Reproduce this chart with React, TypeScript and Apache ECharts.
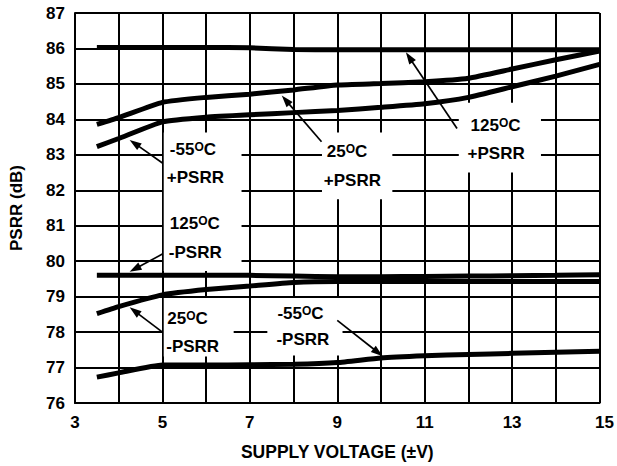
import React, { useEffect, useRef } from "react";
import * as echarts from "echarts";

// ---- data ----
const VOLTAGE = [3.5, 4, 5, 6, 7, 8, 9, 10, 11, 12, 13, 14, 15];
const PLUS_125C = [86.03, 86.03, 86.03, 86.03, 86.02, 85.97, 85.96, 85.96, 85.96, 85.96, 85.96, 85.96, 85.96];
const PLUS_25C = [83.86, 84.05, 84.48, 84.62, 84.71, 84.83, 84.97, 85.01, 85.06, 85.16, 85.42, 85.68, 85.93];
const PLUS_M55C = [83.23, 83.46, 83.93, 84.06, 84.13, 84.19, 84.25, 84.34, 84.44, 84.62, 84.92, 85.22, 85.55];
const MINUS_125C = [79.6, 79.6, 79.6, 79.6, 79.6, 79.58, 79.56, 79.56, 79.57, 79.58, 79.59, 79.6, 79.62];
const MINUS_25C = [78.52, 78.72, 79.05, 79.2, 79.3, 79.4, 79.43, 79.43, 79.43, 79.43, 79.43, 79.43, 79.43];
const MINUS_M55C = [76.73, 76.85, 77.07, 77.07, 77.08, 77.09, 77.14, 77.27, 77.33, 77.37, 77.4, 77.43, 77.46];

const X_MIN = 3;
const X_MAX = 15;
const Y_MIN = 76;
const Y_MAX = 87;
const X_LABELED = [3, 5, 7, 9, 11, 13, 15];

const X_TITLE = "SUPPLY VOLTAGE (\u00B1V)";
const Y_TITLE = "PSRR (dB)";

// annotation labels, anchor (x, y of each line) in data units
type Note = { temp: string; kind: string; x: number; y1: number; y2: number };
const NOTES: Note[] = [
  { temp: "-55", kind: "+PSRR", x: 5.17, y1: 83.156, y2: 82.356 },
  { temp: "125", kind: "-PSRR", x: 5.17, y1: 81.05, y2: 80.25 },
  { temp: "25", kind: "-PSRR", x: 5.11, y1: 78.385, y2: 77.6 },
  { temp: "-55", kind: "-PSRR", x: 7.63, y1: 78.525, y2: 77.78 },
  { temp: "25", kind: "+PSRR", x: 8.76, y1: 83.085, y2: 82.286 },
  { temp: "125", kind: "+PSRR", x: 12.05, y1: 83.83, y2: 83.04 },
];

// white label boxes: [x0, x1, yTop, yBottom] in data units
const BOXES: number[][] = [
  [5.03, 6.81, 83.63, 79.72],
  [5.03, 6.63, 78.96, 77.31],
  [7.4, 9.12, 78.96, 77.34],
  [8.65, 10.26, 83.63, 81.75],
  [11.78, 13.66, 84.47, 82.5],
];

// arrows: [fromX, fromY, toX, toY] in data units
const ARROWS: number[][] = [
  [5.0, 82.77, 4.25, 83.42],
  [5.0, 80.2, 4.25, 79.7],
  [5.0, 78.0, 4.25, 78.7],
  [8.64, 83.37, 7.73, 84.67],
  [11.74, 83.74, 10.57, 85.89],
  [9.0, 78.33, 10.04, 77.32],
];

const FONT = "Liberation Sans";

function pair(ys: number[]) {
  return VOLTAGE.map((x, i) => [x, ys[i]]);
}

export default function App() {
  const ref = useRef<HTMLDivElement>(null);

  useEffect(() => {
    const chart = echarts.init(ref.current!, null, { renderer: "svg" });
    const curve = (name: string, ys: number[]) => ({
      name,
      type: "line",
      data: pair(ys),
      showSymbol: false,
      symbol: "none",
      smooth: 0.15,
      lineStyle: { color: "#000", width: 5, cap: "butt" },
      z: 4,
    });
    chart.setOption({
      animation: false,
      backgroundColor: "#fff",
      grid: { left: 73, right: 15, top: 13, bottom: 61 },
      xAxis: {
        type: "value",
        min: X_MIN,
        max: X_MAX,
        interval: 1,
        name: X_TITLE,
        nameLocation: "middle",
        nameGap: 40,
        nameTextStyle: { fontFamily: FONT, fontWeight: "bold", fontSize: 17.5, color: "#000" },
        axisLine: { show: true, lineStyle: { color: "#000", width: 2 } },
        axisTick: { show: false },
        splitLine: { show: true, lineStyle: { color: "#000", width: 2 } },
        axisLabel: {
          margin: 11,
          fontFamily: FONT,
          fontWeight: "bold",
          fontSize: 17,
          color: "#000",
          formatter: (v: number) =>
            X_LABELED.includes(v) ? (v === X_MAX ? `{r|${v}}` : String(v)) : "",
          rich: { r: { padding: [0, 0, 0, 10], fontFamily: FONT, fontWeight: "bold", fontSize: 17, color: "#000" } },
        },
      },
      yAxis: {
        type: "value",
        min: Y_MIN,
        max: Y_MAX,
        interval: 1,
        name: Y_TITLE,
        nameLocation: "middle",
        nameGap: 50,
        nameTextStyle: { fontFamily: FONT, fontWeight: "bold", fontSize: 17, color: "#000" },
        axisLine: { show: true, lineStyle: { color: "#000", width: 2 } },
        axisTick: { show: false },
        splitLine: { show: true, lineStyle: { color: "#000", width: 2 } },
        axisLabel: { margin: 10, fontFamily: FONT, fontWeight: "bold", fontSize: 17, color: "#000" },
      },
      series: [
        curve("125°C +PSRR", PLUS_125C),
        curve("25°C +PSRR", PLUS_25C),
        curve("-55°C +PSRR", PLUS_M55C),
        curve("125°C -PSRR", MINUS_125C),
        curve("25°C -PSRR", MINUS_25C),
        curve("-55°C -PSRR", MINUS_M55C),
      ],
    });

    const px = (x: number, y: number) => chart.convertToPixel({ gridIndex: 0 }, [x, y]) as number[];
    const elements: any[] = [];
    BOXES.forEach(([x0, x1, yt, yb]) => {
      const a = px(x0, yt);
      const b = px(x1, yb);
      elements.push({
        type: "rect",
        z: 1,
        shape: { x: a[0], y: a[1], width: b[0] - a[0], height: b[1] - a[1] },
        style: { fill: "#fff" },
        silent: true,
      });
    });
    ARROWS.forEach(([fx, fy, tx, ty]) => {
      const a = px(fx, fy);
      const b = px(tx, ty);
      const dx = b[0] - a[0];
      const dy = b[1] - a[1];
      const len = Math.hypot(dx, dy);
      const ux = dx / len;
      const uy = dy / len;
      const headL = 12;
      const headW = 4;
      const bx = b[0] - ux * headL;
      const by = b[1] - uy * headL;
      elements.push({
        type: "line",
        z: 5,
        shape: { x1: a[0], y1: a[1], x2: bx + ux * 2, y2: by + uy * 2 },
        style: { stroke: "#000", lineWidth: 1.7 },
        silent: true,
      });
      elements.push({
        type: "polygon",
        z: 5,
        shape: {
          points: [
            [b[0], b[1]],
            [bx - uy * headW, by + ux * headW],
            [bx + uy * headW, by - ux * headW],
          ],
        },
        style: { fill: "#000" },
        silent: true,
      });
    });
    NOTES.forEach((n) => {
      const p1 = px(n.x, n.y1);
      const p2 = px(n.x, n.y2);
      elements.push({
        type: "text",
        z: 6,
        x: p1[0],
        y: p1[1],
        style: {
          text: `${n.temp}{o|O}C`,
          fill: "#000",
          font: `bold 17px "${FONT}"`,
          align: "left",
          verticalAlign: "middle",
          rich: {
            o: { fontSize: 12, fontWeight: "bold", fontFamily: FONT, fill: "#000", verticalAlign: "top", lineHeight: 17 },
          },
        },
        silent: true,
      });
      elements.push({
        type: "text",
        z: 6,
        x: p2[0] - (n.kind.startsWith("+") ? 3 : 1),
        y: p2[1],
        style: {
          text: n.kind,
          fill: "#000",
          font: `bold 17px "${FONT}"`,
          align: "left",
          verticalAlign: "middle",
        },
        silent: true,
      });
    });
    chart.setOption({ graphic: { elements } });

    return () => chart.dispose();
  }, []);

  return (
    <div
      ref={ref}
      style={{ position: "fixed", left: 0, top: 0, width: 617, height: 466, background: "#fff" }}
    />
  );
}
